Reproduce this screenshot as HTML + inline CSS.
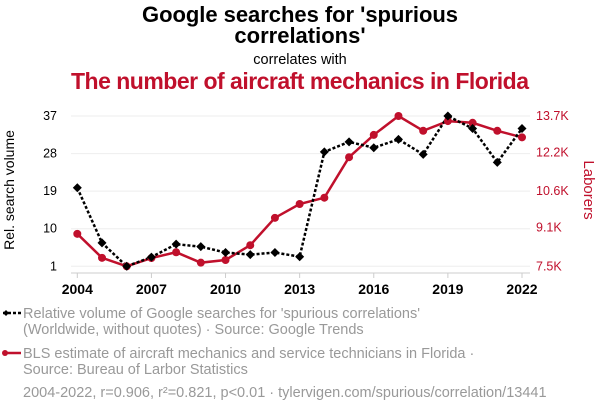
<!DOCTYPE html>
<html><head><meta charset="utf-8"><style>
html,body{margin:0;padding:0;background:#fff;}
svg{display:block;font-family:"Liberation Sans",sans-serif;}
</style></head><body>
<svg id="chart" width="600" height="414" viewBox="0 0 600 414">
<text x="300" y="22" text-anchor="middle" font-size="22" font-weight="bold" fill="#000" textLength="316">Google searches for 'spurious</text>
<text x="300" y="43" text-anchor="middle" font-size="22" font-weight="bold" fill="#000">correlations'</text>
<text x="300" y="64" text-anchor="middle" font-size="14.5" fill="#000">correlates with</text>
<text x="300" y="89" text-anchor="middle" font-size="23" font-weight="bold" fill="#c0102c" textLength="458">The number of aircraft mechanics in Florida</text>
<g id="grid"></g>
<g id="axes"></g>
<g id="series"></g>
<text transform="translate(14,190) rotate(-90)" text-anchor="middle" font-size="14" fill="#000">Rel. search volume</text>
<text transform="translate(584,190) rotate(90)" text-anchor="middle" font-size="15" fill="#c0102c">Laborers</text>
<g>
<line x1="3" y1="313" x2="21" y2="313" stroke="#000" stroke-width="2.5" stroke-dasharray="3,2"/>
<path d="M3,313 l3,-3 l3,3 l-3,3z" fill="#000"/>
<text x="23" y="318" font-size="14.5" fill="#999" textLength="397">Relative volume of Google searches for 'spurious correlations'</text>
<text x="23" y="334" font-size="14.5" fill="#999">(Worldwide, without quotes) · Source: Google Trends</text>
</g>
<g>
<line x1="3" y1="353" x2="21" y2="353" stroke="#c0102c" stroke-width="2.5"/>
<circle cx="5" cy="353" r="3" fill="#c0102c"/>
<text x="23" y="358" font-size="14.5" fill="#999">BLS estimate of aircraft mechanics and service technicians in Florida ·</text>
<text x="23" y="374" font-size="14.5" fill="#999">Source: Bureau of Larbor Statistics</text>
</g>
<text x="23" y="397" font-size="14.5" fill="#999">2004-2022, r=0.906, r²=0.821, p&lt;0.01 · tylervigen.com/spurious/correlation/13441</text>
</svg>
<script>
const years=[2004,2005,2006,2007,2008,2009,2010,2011,2012,2013,2014,2015,2016,2017,2018,2019,2020,2021,2022];
const searches=[19.8,6.6,1,3.2,6.3,5.7,4.3,3.8,4.3,3.3,28.4,30.8,29.4,31.4,27.8,37,34,25.9,34];
const mechanicsK=[8.84,7.85,7.5,7.84,8.08,7.65,7.76,8.37,9.5,10.07,10.33,12.0,12.92,13.7,13.09,13.49,13.42,13.09,12.82];
const leftTicks=[1,10,19,28,37];
const rightTicks=[7.5,9.1,10.6,12.2,13.7];
const rightTickLabels=["7.5K","9.1K","10.6K","12.2K","13.7K"];
const xTicks=[2004,2007,2010,2013,2016,2019,2022];

const NS="http://www.w3.org/2000/svg";
const X0=77.3,X1=522,YT=116,YB=266.3;
const x=v=>X0+(v-2004)/(2022-2004)*(X1-X0);
const yL=v=>YB-(v-1)/(37-1)*(YB-YT);
const yR=v=>YB-(v-7.5)/(13.7-7.5)*(YB-YT);
function mk(tag,attrs,parent,text){const e=document.createElementNS(NS,tag);for(const k in attrs)e.setAttribute(k,attrs[k]);if(text!==undefined)e.textContent=text;document.getElementById(parent).appendChild(e);return e;}

leftTicks.forEach((t,i)=>{
  const g=mk('line',{x1:71,x2:530,y1:yL(t),y2:yL(t),stroke:'#eee','stroke-width':1},'grid');
  
  
  const l=mk('text',{x:57,y:yL(t)+4,'text-anchor':'end','font-size':12.5,fill:'#000'},'axes',String(t));
  
  
});
rightTicks.forEach((t,i)=>{
  const l=mk('text',{x:536,y:yR(t)+4,'font-size':12.5,fill:'#c0102c'},'axes',rightTickLabels[i]);
  
  
});
const ax=mk('line',{x1:71,x2:530,y1:273,y2:273,stroke:'#ccc','stroke-width':1},'axes');


xTicks.forEach(t=>{
  const tk=mk('line',{x1:x(t),x2:x(t),y1:273,y2:278,stroke:'#ccc'},'axes');
  
  
  const l=mk('text',{x:x(t),y:294,'text-anchor':'middle','font-size':14,'font-weight':'bold',fill:'#000'},'axes',String(t));
  
  
});
const rp=mk('polyline',{points:years.map((yr,i)=>x(yr)+','+yR(mechanicsK[i])).join(' '),fill:'none',stroke:'#c0102c','stroke-width':2.5},'series');


const bp=mk('polyline',{points:years.map((yr,i)=>x(yr)+','+yL(searches[i])).join(' '),fill:'none',stroke:'#000','stroke-width':2.5,'stroke-dasharray':'3,2'},'series');


years.forEach((yr,i)=>{
  const c=mk('circle',{cx:x(yr),cy:yR(mechanicsK[i]),r:4,fill:'#c0102c'},'series');
  
  
});
years.forEach((yr,i)=>{
  const px=x(yr),py=yL(searches[i]);
  const d=mk('path',{d:`M${px-4.5},${py} L${px},${py-4.5} L${px+4.5},${py} L${px},${py+4.5}Z`,fill:'#000'},'series');
  
  
});
</script>
</body></html>
